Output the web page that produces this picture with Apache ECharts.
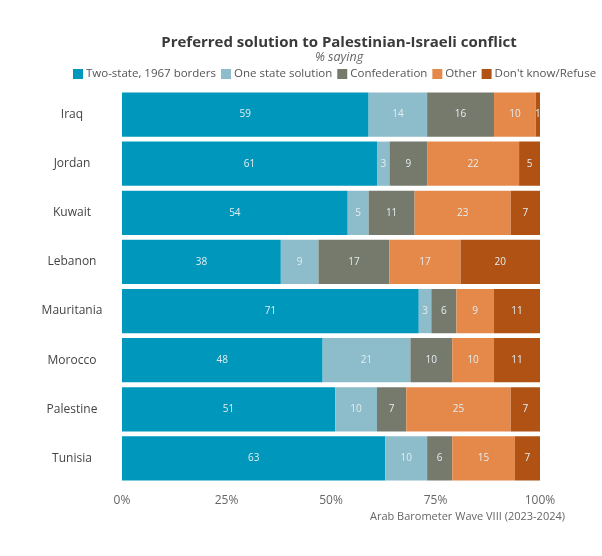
<!DOCTYPE html>
<html>
<head>
<meta charset="utf-8">
<script src="https://cdn.jsdelivr.net/npm/echarts@6/dist/echarts.min.js"></script>
<style>
html, body { margin: 0; padding: 0; background: #fff; }
#chart { width: 602px; height: 556px; }
</style>
</head>
<body>
<div id="chart"></div>
<script>
// categories (top to bottom)
const countries = ['Iraq', 'Jordan', 'Kuwait', 'Lebanon', 'Mauritania', 'Morocco', 'Palestine', 'Tunisia'];
const seriesNames = ['Two-state, 1967 borders', 'One state solution', 'Confederation', 'Other', "Don't know/Refuse"];
const twoState = [59, 61, 54, 38, 71, 48, 51, 63];
const oneState = [14, 3, 5, 9, 3, 21, 10, 10];
const confederation = [16, 9, 11, 17, 6, 10, 7, 6];
const other = [10, 22, 23, 17, 9, 10, 25, 15];
const dontKnow = [1, 5, 7, 20, 11, 11, 7, 7];
const xTicks = [0, 25, 50, 75, 100];

const colors = ['#0097BD', '#8DBCCB', '#767A6C', '#E5894A', '#B05213'];
const values = [twoState, oneState, confederation, other, dontKnow];
const font = 'Open Sans';

const chart = echarts.init(document.getElementById('chart'));

const series = seriesNames.map(function (name, i) {
    return {
        name: name,
        type: 'bar',
        stack: 'total',
        data: values[i],
        barCategoryGap: '10%',
        itemStyle: { color: colors[i] },
        label: {
            show: true,
            position: 'inside',
            color: '#e3edf0',
            fontSize: 10,
            fontFamily: font,
        },
    };
});

chart.setOption({
    animation: false,
    color: colors,
    title: {
        text: 'Preferred solution to Palestinian-Israeli conflict',
        subtext: '% saying',
        left: 334,
        textAlign: 'center',
        top: 30,
        itemGap: 1,
        textStyle: { fontFamily: font, fontSize: 15, fontWeight: 'bold', color: '#3a3a3a' },
        subtextStyle: { fontFamily: font, fontSize: 12.5, fontStyle: 'italic', color: '#666' },
    },
    legend: {
        top: 63,
        left: 68,
        itemWidth: 10,
        itemHeight: 10,
        itemGap: 5,
        icon: 'rect',
        textStyle: { fontFamily: font, fontSize: 11.5, color: '#555', padding: [0, 0, 0, -2] },
    },
    grid: { left: 122, right: 62, top: 90, bottom: 73 },
    xAxis: {
        type: 'value',
        min: 0,
        max: 100,
        interval: 25,
        splitLine: { show: false },
        axisLine: { show: false },
        axisTick: { show: false },
        axisLabel: {
            formatter: function (v) { return xTicks.indexOf(v) >= 0 ? v + '%' : ''; },
            fontFamily: font,
            fontSize: 12,
            color: '#666',
            margin: 12,
        },
    },
    yAxis: {
        type: 'category',
        data: countries,
        inverse: true,
        axisLine: { show: false },
        axisTick: { show: false },
        axisLabel: {
            fontFamily: font,
            fontSize: 12,
            color: '#444',
            align: 'center',
            margin: 50,
        },
    },
    graphic: [{
        type: 'text',
        right: 37,
        top: 511,
        style: {
            text: 'Arab Barometer Wave VIII (2023-2024)',
            fontFamily: font,
            fontSize: 11,
            fill: '#666',
        },
    }],
    series: series,
});
</script>
</body>
</html>
